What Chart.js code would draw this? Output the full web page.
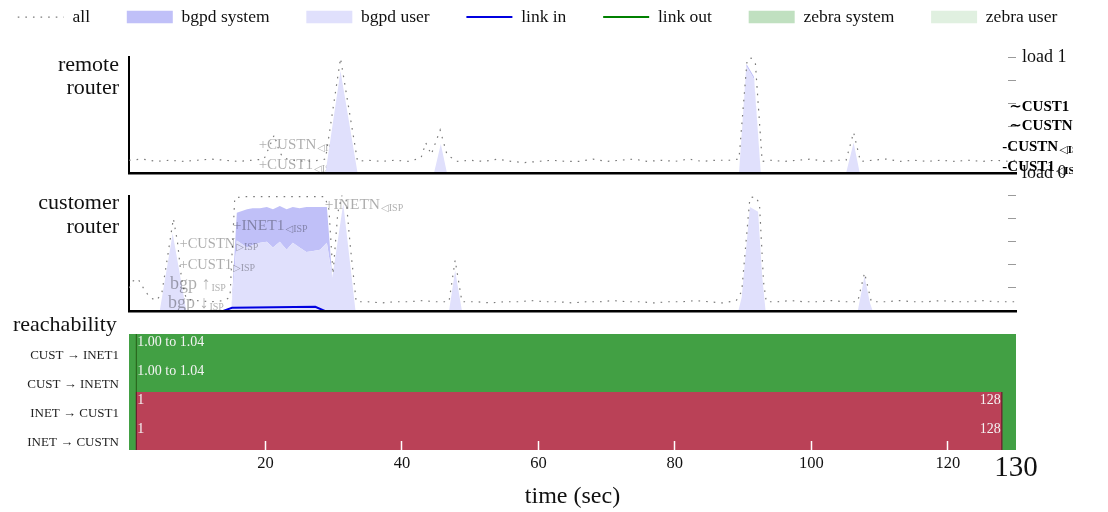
<!DOCTYPE html>
<html>
<head>
<meta charset="utf-8">
<script src="https://cdn.jsdelivr.net/npm/chart.js@4.4.1/dist/chart.umd.min.js"></script>
<style>
  html, body { margin: 0; padding: 0; background: #fff; }
  #wrap { position: relative; width: 1108px; height: 512px; overflow: hidden; }
  canvas { position: absolute; left: 0; }
</style>
</head>
<body>
<div id="wrap">
  <canvas id="remote" width="1108" height="184" style="top:0px"></canvas>
  <canvas id="customer" width="1108" height="132" style="top:184px"></canvas>
  <canvas id="reach" width="1108" height="196" style="top:316px"></canvas>
</div>
<script>
// ---------- time axis ----------
const T_MAX = 130;
const timeTicks = [20, 40, 60, 80, 100, 120, 130];
const loadTicks = [0, 0.2, 0.4, 0.6, 0.8, 1];

// ---------- remote router: [time (s), load] ----------
const remoteAll = [[0,0.11],[2,0.12],[4,0.1],[6,0.11],[8,0.1],[10,0.11],[12,0.12],[14,0.11],[16,0.1],[18,0.11],
  [19.8,0.12],[20.6,0.23],[21.3,0.33],[22,0.19],[22.6,0.13],[24,0.11],[26,0.1],[28,0.11],[28.8,0.12],[31,0.99],
  [33.5,0.1],[35,0.11],[37,0.1],[39,0.11],[41,0.1],[42.8,0.13],[43.5,0.26],[44.3,0.16],[45.6,0.37],[46.6,0.16],
  [48,0.1],[50,0.11],[52,0.1],[54,0.12],[56,0.1],[58,0.09],[60,0.1],[62,0.11],[64,0.1],[66,0.1],[68,0.12],[70,0.1],
  [72,0.11],[74,0.12],[76,0.1],[78,0.11],[80,0.1],[82,0.12],[84,0.1],[86,0.11],[88,0.11],[89.4,0.12],[90.6,0.98],
  [91.2,0.99],[91.8,0.95],[92.8,0.1],[94,0.11],[96,0.1],[98,0.11],[100,0.12],[102,0.1],[104,0.11],[105.1,0.11],
  [106.2,0.35],[107.2,0.1],[109,0.11],[111,0.12],[113,0.1],[115,0.11],[117,0.1],[119,0.11],[121,0.1],[123,0.11],
  [125,0.1],[127,0.11],[129,0.1],[130,0.11]];
const remoteBgpdUser = [[0,0],[28.8,0],[31,0.88],[33.5,0],[44.7,0],[45.7,0.25],[46.6,0],[89.4,0],[90.5,0.92],
  [91.6,0.81],[92.6,0],[105.1,0],[106.2,0.26],[107.1,0],[130,0]];
const remoteBgpdSystem = [[0,0],[28.8,0],[31,0],[33.5,0],[44.7,0],[45.7,0],[46.6,0],[89.4,0],[90.5,0.02],
  [91.6,0.02],[92.6,0],[105.1,0],[106.2,0],[107.1,0],[130,0]];
const remoteZebraUser = [[0,0],[130,0]];
const remoteZebraSystem = [[0,0],[130,0]];
const remoteLinkIn = [[0,0],[130,0]];
const remoteLinkOut = [[0,0],[130,0]];

// ---------- customer router: [time (s), load] ----------
const customerAll = [[0,0.2],[0.6,0.26],[1.3,0.28],[2.1,0.2],[3,0.12],[4,0.09],[4.8,0.15],[5.6,0.45],[6.5,0.8],
  [7.1,0.6],[7.7,0.28],[8.4,0.1],[10,0.09],[12,0.08],[14,0.09],[14.8,0.12],[15.5,0.98],[17,0.99],[20,0.99],[23,0.99],
  [26,0.99],[28.7,0.99],[29.3,0.88],[29.9,0.32],[30.6,0.85],[31.2,1.0],[31.8,0.98],[32.4,0.58],[33.3,0.08],[35,0.08],
  [37,0.07],[39,0.08],[41,0.08],[43,0.09],[45,0.08],[46.9,0.08],[47.8,0.44],[48.8,0.08],[51,0.08],[53,0.07],[55,0.08],
  [57,0.08],[59,0.09],[61,0.08],[63,0.08],[65,0.07],[67,0.08],[69,0.08],[71,0.09],[73,0.08],[75,0.08],[77,0.07],
  [79,0.08],[81,0.08],[83,0.09],[85,0.08],[87,0.07],[89,0.09],[89.8,0.17],[91,0.98],[91.8,0.99],[92.4,0.93],[93,0.25],
  [93.4,0.08],[95,0.08],[97,0.09],[99,0.08],[101,0.08],[103,0.09],[105,0.08],[106.8,0.08],[107.8,0.33],[108.8,0.08],
  [111,0.08],[113,0.09],[115,0.08],[117,0.08],[119,0.09],[121,0.08],[123,0.08],[125,0.09],[127,0.08],[129,0.08],[130,0.08]];
const customerBgpdUser = [[0,0],[4.5,0],[6.4,0.67],[8.4,0],[15,0],[15.8,0.61],[17.3,0.55],[18.1,0.57],[19.2,0.59],
  [20.2,0.6],[21.1,0.55],[22.1,0.6],[23.1,0.53],[24,0.59],[25,0.55],[26,0.51],[27,0.52],[28,0.53],[29,0.59],[29.8,0.29],
  [31.4,0.93],[33.2,0],[46.9,0],[47.8,0.35],[48.8,0],[89.3,0],[89.8,0.12],[91,0.9],[92.2,0.86],[92.8,0.3],[93.3,0],
  [106.8,0],[107.8,0.3],[108.6,0.07],[109,0],[130,0]];
const customerBgpdSystem = [[0,0],[4.5,0],[6.4,0],[8.4,0],[15,0],[15.8,0.24],[17.3,0.33],[18.1,0.32],[19.2,0.3],
  [20.2,0.3],[21.1,0.33],[22.1,0.31],[23.1,0.35],[24,0.31],[25,0.34],[26,0.39],[27,0.38],[28,0.37],[29,0.31],[29.8,0],
  [31.4,0],[33.2,0],[46.9,0],[47.8,0],[48.8,0],[89.3,0],[89.8,0],[91,0],[92.2,0],[92.8,0],[93.3,0],
  [106.8,0],[107.8,0],[108.6,0],[109,0],[130,0]];
const customerZebraUser = [[0,0],[130,0]];
const customerZebraSystem = [[0,0],[130,0]];
const customerLinkIn = [[0,0],[13.8,0],[15.1,0.028],[27.3,0.037],[28.7,0],[130,0]];
const customerLinkOut = [[0,0],[130,0]];

// ---------- routing events ----------
const remoteEvents = [
  {t: 19, text: '+CUSTN', sub: '◁ISP'},
  {t: 19, text: '+CUST1', sub: '◁ISP'}
];
const remoteLateEvents = [
  {t: 129, text: '∼CUST1', sub: ''},
  {t: 129, text: '∼CUSTN', sub: ''},
  {t: 128, text: '-CUSTN', sub: '◁ISP'},
  {t: 128, text: '-CUST1', sub: '◁ISP'}
];
const customerEvents = [
  {t: 28.7, text: '+INETN', sub: '◁ISP'},
  {t: 15.2, text: '+INET1', sub: '◁ISP'},
  {t: 7.4, text: '+CUSTN', sub: '▷ISP'},
  {t: 7.4, text: '+CUST1', sub: '▷ISP'},
  {t: 6.0, text: 'bgp ↑', sub: 'ISP'},
  {t: 5.7, text: 'bgp ↓', sub: 'ISP'}
];

// ---------- reachability ----------
const reachRows = ['CUST → INET1', 'CUST → INETN', 'INET → CUST1', 'INET → CUSTN'];
const reachState = ['up', 'up', 'down', 'down'];
const reachFrom = [1, 1, 1, 1];
const reachTo = [130, 130, 128, 128];
const reachNote = ['1.00 to 1.04', '1.00 to 1.04', '', ''];

const legendOrder = ['all', 'bgpd system', 'bgpd user', 'link in', 'link out', 'zebra system', 'zebra user'];

// ================= drawing =================
const SERIF = "'Liberation Serif', 'DejaVu Serif', serif";
Chart.defaults.font.family = SERIF;
Chart.defaults.color = '#111';

const pts = arr => arr.map(([x, y]) => ({x, y}));

function loadDatasets(s) {
  return [
    {label: 'all', data: pts(s.all), borderColor: '#7a7a7a', borderWidth: 1.2, borderDash: [1.6, 6],
     fill: false, stack: 'all', order: 0},
    {label: 'link in', data: pts(s.linkIn), borderColor: '#0000e0', borderWidth: 2, fill: false, stack: 'linkIn', order: 1},
    {label: 'link out', data: pts(s.linkOut), borderColor: '#008000', borderWidth: 2, fill: false, stack: 'linkOut', order: 1},
    {label: 'bgpd user', data: pts(s.bgpdUser), borderColor: '#e0e0fc', backgroundColor: '#e0e0fc', borderWidth: 0,
     fill: 'origin', stack: 'bgpd', order: 3},
    {label: 'bgpd system', data: pts(s.bgpdSystem), borderColor: '#c0c0f8', backgroundColor: '#c0c0f8', borderWidth: 0,
     fill: '-1', stack: 'bgpd', order: 3},
    {label: 'zebra user', data: pts(s.zebraUser), borderColor: '#e0f0e0', backgroundColor: '#e0f0e0', borderWidth: 0,
     fill: 'origin', stack: 'zebra', order: 4},
    {label: 'zebra system', data: pts(s.zebraSystem), borderColor: '#c0e0c0', backgroundColor: '#c0e0c0', borderWidth: 0,
     fill: '-1', stack: 'zebra', order: 4}
  ];
}

function drawEvent(ctx, x, y, ev, st) {
  ctx.font = `${st.weight} ${st.size}px ${SERIF}`;
  ctx.fillStyle = st.color;
  ctx.textAlign = 'left';
  ctx.textBaseline = 'middle';
  ctx.fillText(ev.text, x, y);
  if (ev.sub) {
    const w = ctx.measureText(ev.text).width;
    ctx.font = `${st.weight} ${st.subSize}px ${SERIF}`;
    ctx.fillText(ev.sub, x + w + 1, y + st.size * 0.24);
  }
}

// event annotations placed on the time axis, stacked in text rows (row = load level)
function eventPlugin(groups) {
  const paint = (chart, layer) => {
    const {ctx, scales: {x, y}, chartArea} = chart;
    groups.filter(g => g.layer === layer).forEach(g => {
      ctx.save();
      if (g.clipExtra !== undefined) {
        ctx.beginPath();
        ctx.rect(0, 0, chartArea.right + g.clipExtra, chart.height);
        ctx.clip();
      }
      g.events.forEach((ev, i) => {
        const st = Object.assign({}, g.style, g.sizes ? {size: g.sizes[i]} : {});
        drawEvent(ctx, x.getPixelForValue(ev.t), y.getPixelForValue(g.rows[i]), ev, st);
      });
      ctx.restore();
    });
  };
  return {
    id: 'events',
    beforeDatasetsDraw(chart) { paint(chart, 'under'); },
    afterDatasetsDraw(chart) { paint(chart, 'over'); }
  };
}

function legendLabels(chart) {
  return legendOrder.map(name => {
    const i = chart.data.datasets.findIndex(d => d.label === name);
    const ds = chart.data.datasets[i];
    const isLine = !ds.fill;
    return {
      text: name,
      datasetIndex: i,
      fillStyle: isLine ? 'rgba(0,0,0,0)' : ds.backgroundColor,
      strokeStyle: ds.borderColor,
      lineWidth: isLine ? ds.borderWidth : 0,
      lineDash: ds.borderDash || [],
      pointStyle: isLine ? 'line' : 'rect',
      fontColor: '#111',
      hidden: false
    };
  });
}

function panelScales(title, rightLabels, xHeight, leftWidth) {
  return {
    x: {
      type: 'linear', min: 0, max: T_MAX,
      ticks: {display: false},
      grid: {display: false, drawTicks: false},
      border: {display: true, color: '#000', width: 2.5, z: 1},
      afterFit: s => { s.height = xHeight; s.paddingLeft = 0; s.paddingRight = 0; }
    },
    y: {
      type: 'linear', position: 'left', min: 0, max: 1, stacked: true,
      afterBuildTicks: s => { s.ticks = [{value: 0.83}]; },
      afterFit: s => { s.width = leftWidth; s.paddingTop = 0; s.paddingBottom = 0; },
      grid: {display: false, drawTicks: false},
      border: {display: true, color: '#000', width: 2},
      ticks: {padding: 10, color: '#111', font: {size: 22, lineHeight: 1.08}, callback: () => title}
    },
    yr: {
      type: 'linear', position: 'right', min: 0, max: 1,
      afterBuildTicks: s => { s.ticks = loadTicks.map(v => ({value: v})); },
      afterFit: s => { s.width = 92; s.paddingTop = 0; s.paddingBottom = 0; },
      grid: {display: true, drawOnChartArea: false, drawTicks: true, tickLength: -8, tickColor: '#9a9a9a', tickWidth: 1},
      border: {display: false},
      ticks: {autoSkip: false, padding: 14, color: '#111', font: {size: 18},
              callback: v => rightLabels ? (v === 1 ? 'load 1' : v === 0 ? 'load 0' : '') : ''}
    }
  };
}

// ---- remote router panel (with legend) ----
new Chart(document.getElementById('remote'), {
  type: 'line',
  data: {datasets: loadDatasets({all: remoteAll, bgpdUser: remoteBgpdUser, bgpdSystem: remoteBgpdSystem,
    zebraUser: remoteZebraUser, zebraSystem: remoteZebraSystem, linkIn: remoteLinkIn, linkOut: remoteLinkOut})},
  options: {
    responsive: false, animation: false, devicePixelRatio: 1,
    layout: {padding: {top: -28.5, left: -33, right: 0, bottom: 0}},
    elements: {point: {radius: 0}, line: {tension: 0}},
    plugins: {
      tooltip: {enabled: false},
      legend: {
        display: true, position: 'top', align: 'center', weight: 1000,
        labels: {usePointStyle: true, pointStyleWidth: 46, boxHeight: 12.5, padding: 36.8,
                 color: '#111', font: {size: 17.5}, generateLabels: legendLabels}
      },
      title: {display: true, text: '', weight: 500, padding: 0, font: {size: 1, lineHeight: '21.2px'}}
    },
    scales: panelScales(['remote', 'router'], true, 11, 162)
  },
  plugins: [eventPlugin([
    {layer: 'under', events: remoteEvents, rows: [0.24, 0.065],
     style: {weight: 'normal', size: 15, subSize: 10, color: 'rgba(0,0,0,0.33)'}},
    {layer: 'over', events: remoteLateEvents, rows: [0.57, 0.4, 0.225, 0.05], clipExtra: 57,
     style: {weight: 'bold', size: 15, subSize: 11, color: '#000'}}
  ])]
});

// ---- customer router panel ----
new Chart(document.getElementById('customer'), {
  type: 'line',
  data: {datasets: loadDatasets({all: customerAll, bgpdUser: customerBgpdUser, bgpdSystem: customerBgpdSystem,
    zebraUser: customerZebraUser, zebraSystem: customerZebraSystem, linkIn: customerLinkIn, linkOut: customerLinkOut})},
  options: {
    responsive: false, animation: false, devicePixelRatio: 1,
    layout: {padding: {top: 11.5, left: 0, right: 0, bottom: 0}},
    elements: {point: {radius: 0}, line: {tension: 0}},
    plugins: {tooltip: {enabled: false}, legend: {display: false}},
    scales: panelScales(['customer', 'router'], false, 5, 129)
  },
  plugins: [eventPlugin([
    {layer: 'over', events: customerEvents, rows: [0.92, 0.74, 0.58, 0.4, 0.23, 0.07],
     sizes: [15.5, 15.5, 14.5, 14.5, 18, 18],
     style: {weight: 'normal', size: 15, subSize: 10, color: 'rgba(0,0,0,0.33)'}}
  ])]
});

// ---- reachability panel ----
const reachLabels = {
  id: 'reachLabels',
  afterDatasetsDraw(chart) {
    const ctx = chart.ctx;
    ctx.save();
    ctx.font = `14px ${SERIF}`;
    ctx.fillStyle = '#f4f4f4';
    ctx.textBaseline = 'middle';
    chart.data.datasets.forEach((ds, di) => {
      if (!ds.segment) return;
      chart.getDatasetMeta(di).data.forEach((bar, i) => {
        if (!ds.data[i]) return;
        const top = bar.y - bar.height / 2;
        ctx.textAlign = 'left';
        ctx.fillText(reachState[i] === 'up' ? reachNote[i] : String(reachFrom[i]), bar.base + 1.5, top + 8.5);
        if (reachState[i] === 'down') {
          ctx.textAlign = 'right';
          ctx.fillText(String(reachTo[i]), bar.x - 1.5, top + 8.5);
        }
      });
    });
    ctx.restore();
  }
};

new Chart(document.getElementById('reach'), {
  type: 'bar',
  data: {
    labels: reachRows,
    datasets: [
      {label: 'span', data: reachRows.map(() => [0, T_MAX]), backgroundColor: '#42a044', borderWidth: 0, order: 2},
      {label: 'reachable', segment: true,
       data: reachRows.map((_, i) => reachState[i] === 'up' ? [reachFrom[i], reachTo[i]] : null),
       backgroundColor: '#42a044', borderColor: '#2b6a20', borderSkipped: false,
       borderWidth: {left: 1.5, right: 0, top: 0, bottom: 0}, order: 1},
      {label: 'unreachable', segment: true,
       data: reachRows.map((_, i) => reachState[i] === 'down' ? [reachFrom[i], reachTo[i]] : null),
       backgroundColor: '#ba4157', borderColor: '#6a1f2e', borderSkipped: false,
       borderWidth: {left: 1.5, right: 1.5, top: 0, bottom: 0}, order: 1}
    ]
  },
  options: {
    indexAxis: 'y',
    responsive: false, animation: false, devicePixelRatio: 1,
    datasets: {bar: {barPercentage: 1, categoryPercentage: 1, grouped: false}},
    layout: {padding: {left: 13, right: 92, top: 0, bottom: 0}},
    plugins: {
      tooltip: {enabled: false},
      legend: {display: false},
      title: {display: true, text: 'reachability', align: 'start', color: '#111', padding: 0,
              font: {size: 22, weight: 'normal', lineHeight: '18px'}}
    },
    scales: {
      x: {
        type: 'linear', min: 0, max: T_MAX,
        afterBuildTicks: s => { s.ticks = timeTicks.map(v => ({value: v})); },
        afterFit: s => { s.height = 62; s.paddingLeft = 0; s.paddingRight = 0; },
        grid: {display: true, drawOnChartArea: false, drawTicks: true, tickLength: -9, tickWidth: 1.5, z: 1,
               tickColor: c => (c.tick && c.tick.value === T_MAX) ? 'rgba(0,0,0,0)' : '#ffffff'},
        border: {display: false},
        ticks: {autoSkip: false, maxRotation: 0, padding: 13, color: '#111',
                font: c => (c.tick && c.tick.value === T_MAX) ? {size: 29, lineHeight: 0.96} : {size: 16.5},
                callback: v => String(v)},
        title: {display: true, text: 'time (sec)', color: '#111', font: {size: 24}, padding: {top: 0, bottom: 0.6}}
      },
      y: {
        type: 'category',
        afterFit: s => { s.width = 116; s.paddingTop = 0; s.paddingBottom = 0; },
        grid: {display: false, drawTicks: false},
        border: {display: false},
        ticks: {padding: 10, labelOffset: 7, color: '#222', font: {size: 13}}
      }
    }
  },
  plugins: [reachLabels]
});
</script>
</body>
</html>
